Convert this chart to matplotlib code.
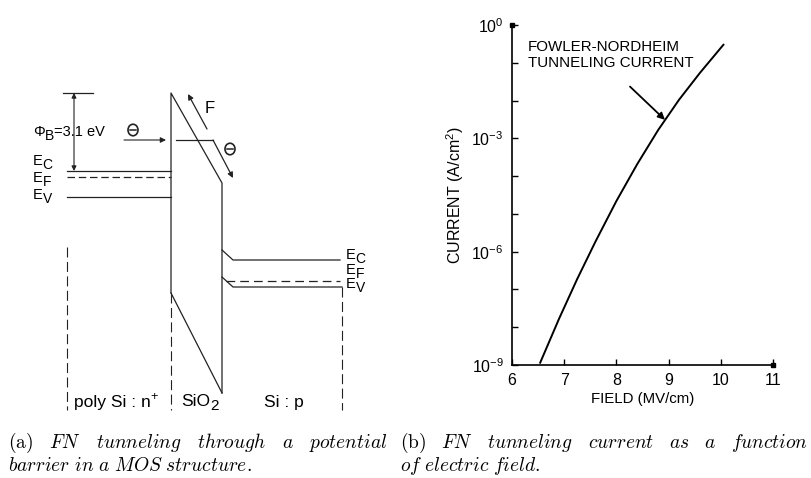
import matplotlib.pyplot as plt
from matplotlib.patches import Ellipse

plt.rcParams['font.family'] = ['Liberation Sans', 'DejaVu Sans']
plt.rcParams['mathtext.fontset'] = 'custom'
plt.rcParams['mathtext.rm'] = 'Liberation Sans'
plt.rcParams['mathtext.it'] = 'Liberation Sans:italic'

# ---- (b) FN current vs field
field = [6.54, 6.90, 7.25, 7.60, 8.00, 8.40, 8.80, 9.20, 9.60, 10.05]
current = [1.15e-9, 1.66e-8, 1.9e-7, 1.86e-6, 2.19e-5, 2.09e-4, 1.66e-3, 1.05e-2, 5.4e-2, 0.30]
x_ticks = [6, 7, 8, 9, 10, 11]
y_ticks = [1e-9, 1e-8, 1e-7, 1e-6, 1e-5, 1e-4, 1e-3, 1e-2, 1e-1, 1e0]
y_labels = ['$10^{-9}$', '', '', '$10^{-6}$', '', '', '$10^{-3}$', '', '', '$10^{0}$']

# ---- (a) band diagram, in pixel units of the page
oxide_x = [171, 171, 222, 222]
oxide_y = [293, 93, 183, 393]
ec_left, ef_left, ev_left = 171, 177, 197
band_left_x = [67, 171]
ec_right_x = [222, 233, 340]
ec_right_y = [250, 260, 260]
ev_right_x = [222, 233, 342]
ev_right_y = [277, 287, 287]
ef_right = 281
bounds_x = [67, 171, 342]
bounds_top = [247, 293, 287]
bounds_bottom = 410

cap_a1 = ['(a)', 'FN', 'tunneling', 'through', 'a', 'potential']
cap_a2 = 'barrier in a MOS structure.'
cap_b1 = ['(b)', 'FN', 'tunneling', 'current', 'as', 'a', 'function']
cap_b2 = 'of electric field.'

fig = plt.figure(figsize=(8.12, 4.78), dpi=100)
ax0 = fig.add_axes([0, 0, 1, 1])
ax0.set_xlim(0, 812)
ax0.set_ylim(478, 0)
ax0.axis('off')
renderer = fig.canvas.get_renderer()


def chain(x, y, parts):
    # parts: (text, fontsize, vertical shift in px); placed one after the other
    for s, size, dy in parts:
        t = ax0.text(x, y + dy, s, fontsize=size, va='center', ha='left')
        x += t.get_window_extent(renderer).width


lw = 0.9
col = '#222222'
# oxide barrier
ax0.plot(oxide_x, oxide_y, color=col, lw=lw)
ax0.plot([171, 222], [293, 393], color=col, lw=lw)
# left bands
ax0.plot(band_left_x, [ec_left] * 2, color=col, lw=lw)
ax0.plot(band_left_x, [ef_left] * 2, color=col, lw=lw, dashes=(6, 3))
ax0.plot(band_left_x, [ev_left] * 2, color=col, lw=lw)
# right bands
ax0.plot(ec_right_x, ec_right_y, color=col, lw=lw)
ax0.plot(ev_right_x, ev_right_y, color=col, lw=lw)
ax0.plot([226, 340], [ef_right] * 2, color=col, lw=lw, dashes=(7, 4))
# region boundaries
for bx, bt in zip(bounds_x, bounds_top):
    ax0.plot([bx, bx], [bt, bounds_bottom], color=col, lw=0.8, dashes=(9, 4))

# barrier height
ax0.plot([63, 93], [93, 93], color=col, lw=lw)
ax0.annotate('', xy=(74, 93), xytext=(74, 171),
             arrowprops=dict(arrowstyle='<|-|>', color=col, lw=0.8, mutation_scale=7, shrinkA=0, shrinkB=0))
chain(33, 132, [('\u03a6', 10.5, 0), ('B', 10, 4), ('=3.1 eV', 10.5, 0)])

# electrons
ax0.annotate('', xy=(166, 140), xytext=(124, 140),
             arrowprops=dict(arrowstyle='-|>', color=col, lw=0.8, mutation_scale=8, shrinkA=0, shrinkB=0))
ax0.plot([176, 213], [140, 140], color=col, lw=lw)
ax0.annotate('', xy=(233, 178), xytext=(213, 140),
             arrowprops=dict(arrowstyle='-|>', color=col, lw=0.9, mutation_scale=8, shrinkA=0, shrinkB=0))
for ex, ey in [(133, 130), (230, 149)]:
    ax0.add_patch(Ellipse((ex, ey), 10, 11.5, fill=False, ec=col, lw=1.2))
    ax0.plot([ex - 3, ex + 3], [ey, ey], color=col, lw=1.1)

# field arrow
ax0.annotate('', xy=(188, 94), xytext=(207, 129),
             arrowprops=dict(arrowstyle='-|>', color=col, lw=0.9, mutation_scale=8, shrinkA=0, shrinkB=0))
ax0.text(210, 108, 'F', fontsize=12, va='center', ha='center')

# band labels
for lab, y in [('C', 161), ('F', 178), ('V', 195)]:
    chain(33, y, [('E', 10.5, 0), (lab, 10, 4)])
for lab, y in [('C', 255), ('F', 270), ('V', 284)]:
    chain(346, y, [('E', 10.5, 0), (lab, 10, 4)])

chain(74, 402, [('poly Si : n', 12.5, 0), ('+', 9, -5)])
chain(181, 401, [('SiO', 12.5, 0), ('2', 11, 5)])
ax0.text(284, 402, 'Si : p', fontsize=12.5, va='center', ha='center')

# captions (first lines justified like the source)
cap = dict(fontsize=14, va='center', ha='left', math_fontfamily='cm')


def justified(words, x0, x1, y):
    texts = []
    for i, w in enumerate(words):
        s = r'$\mathrm{%s}$' % w if i == 0 else r'$\mathit{%s}$' % w
        texts.append(ax0.text(x0, y, s, **cap))
    widths = [t.get_window_extent(renderer).width for t in texts]
    gap = (x1 - x0 - sum(widths)) / (len(words) - 1)
    x = x0
    for t, w in zip(texts, widths):
        t.set_x(x)
        x += w + gap


justified(cap_a1, 8, 388, 443)
justified(cap_b1, 400, 808, 443)
ax0.text(8, 466, r'$\mathit{%s}$' % cap_a2.replace(' ', r'\ '), **cap)
ax0.text(400, 466, r'$\mathit{%s}$' % cap_b2.replace(' ', r'\ '), **cap)

# ---- (b)
ax = fig.add_axes([512 / 812, 113 / 478, 261 / 812, 340 / 478])
ax.patch.set_alpha(0)
ax.semilogy(field, current, color='black', lw=1.4)
ax.set_xlim(6, 11)
ax.set_ylim(1e-9, 1e0)
ax.set_xticks(x_ticks)
ax.set_yticks(y_ticks)
ax.set_yticklabels(y_labels)
ax.minorticks_off()
ax.tick_params(direction='in', length=4, width=1, labelsize=11.5)
ax.tick_params(axis='x', pad=6)
ax.tick_params(axis='y', pad=6)
for s in ['top', 'right']:
    ax.spines[s].set_visible(False)
for s in ['left', 'bottom']:
    ax.spines[s].set_linewidth(1.2)
ax.plot([6], [1e0], 's', color='black', ms=3, clip_on=False)
ax.plot([11], [1e-9], 's', color='black', ms=3.5, clip_on=False)
ax.set_xlabel('FIELD (MV/cm)', fontsize=10.8, labelpad=3)
ax.set_ylabel(r'CURRENT (A/cm$^2$)', fontsize=11.5, labelpad=4)
ax.text(6.31, 10 ** -0.8, 'FOWLER-NORDHEIM\nTUNNELING CURRENT', fontsize=10.9,
        va='center', ha='left', linespacing=1.15)
ax.annotate('', xy=(8.93, 10 ** -2.51), xytext=(8.26, 10 ** -1.63),
            arrowprops=dict(arrowstyle='-|>', color='black', lw=1.3, mutation_scale=10, shrinkA=0, shrinkB=0))

fig.savefig('out.png', dpi=100)
